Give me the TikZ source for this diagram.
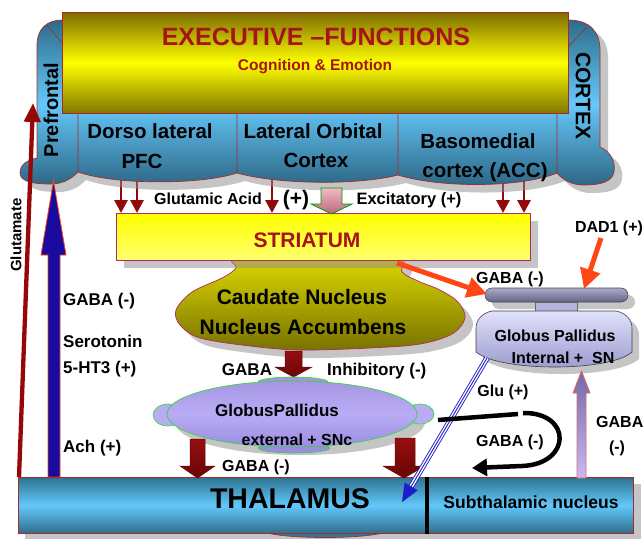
\documentclass[tikz,border=0pt]{standalone}
\usepackage{fontspec}
\setmainfont{Liberation Sans}
\usetikzlibrary{arrows.meta,calc}
\definecolor{exred}{RGB}{165,20,25}
\definecolor{darkred}{RGB}{150,8,8}
\definecolor{oranger}{RGB}{255,70,20}
\definecolor{ctop}{RGB}{45,108,138}
\definecolor{cmid}{RGB}{102,200,250}
\definecolor{cbot}{RGB}{42,100,130}
\definecolor{olivetop}{RGB}{125,108,0}
\definecolor{olivebot}{RGB}{128,118,0}
\definecolor{borderred}{RGB}{170,40,40}
\definecolor{pinkborder}{RGB}{180,40,100}
\definecolor{gpgreen}{RGB}{40,220,40}
\definecolor{bluearr}{RGB}{25,10,160}
\definecolor{bluetri}{RGB}{30,30,200}
\definecolor{cauTop}{RGB}{238,234,0}
\definecolor{cauBot}{RGB}{120,114,0}
\definecolor{lavTop}{RGB}{165,150,225}
\definecolor{lavMid}{RGB}{185,172,245}
\definecolor{lavBot}{RGB}{155,140,225}
\newcommand\fsz[1]{\fontsize{#1}{#1}\selectfont\bfseries}
\newcommand\cortexoutline{(62,20) -- (568,20) .. controls (590,20) and (600,32) .. (600,50) -- (600,147) .. controls (612,152) and (617,165) .. (613,175) .. controls (609,183) and (598,185) .. (583,185) .. controls (572,185) and (563,180) .. (557,173) .. controls (520,188) and (440,188) .. (398,175) .. controls (360,185) and (280,185) .. (237,173) .. controls (200,185) and (115,185) .. (78,172) .. controls (70,180) and (62,184) .. (50,184) .. controls (35,184) and (20,182) .. (20,173) .. controls (20,164) and (28,160) .. (37,158) -- (37,45) .. controls (37,28) and (48,20) .. (62,20) -- cycle}
\newcommand\caudateoutline{plot[smooth cycle, tension=0.55] coordinates {(236,256) (236,268) (222,278) (192,292) (176,310) (180,325) (200,338) (250,346) (300,350) (370,348) (420,344) (452,334) (465,318) (458,302) (440,290) (418,281) (402,272) (398,256) (318,240)}}
\begin{document}
\begin{tikzpicture}[x=1pt,y=-1pt,
  shad/.style={fill=black!45, fill opacity=0.5},
  cx/.style={draw=darkred, line width=2.8pt, -{Triangle[width=13pt,length=13pt]}},
  lab/.style={inner sep=0pt, anchor=base, text=black},
  blockred/.style={draw=darkred!70!black, line width=0.5pt, top color={rgb,255:red,150;green,15;blue,15}, bottom color={rgb,255:red,105;green,5;blue,5}},
  orarr/.style={draw=oranger, line width=5pt, -{Triangle[width=20pt,length=20pt]}}]
\useasboundingbox (0,0) rectangle (644,538);
\fill[white] (0,0) rectangle (644,538);

% ---------- caudate ----------
\fill[shad, shift={(8,8)}] \caudateoutline;
\path[draw=pinkborder, line width=0.7pt, top color=cauTop, bottom color=cauBot] \caudateoutline;
\node[lab, font=\fsz{21}] (cau1) at (302,304) {Caudate Nucleus};
\node[lab, font=\fsz{21}] (cau2) at (303,334) {Nucleus Accumbens};

% ---------- striatum ----------
\fill[shad] (124,221) rectangle (538,268);
\node[draw=pinkborder, line width=0.8pt, top color=yellow, bottom color={rgb,255:red,255;green,255;blue,110}, minimum width=414pt, minimum height=47pt, anchor=north west, inner sep=0pt] (str) at (116,213) {};
\node[lab, text=exred, font=\fsz{21}] (strt) at (307,247) {STRIATUM};

% ---------- cortex -> striatum arrows ----------
\foreach \xx in {121,137,272,503,524} \draw[cx] (\xx,176) -- (str.north -| \xx,0);

% ---------- cortex ----------
\fill[shad, shift={(8,8)}] \cortexoutline;
\path[draw=borderred, line width=0.7pt, top color=ctop, bottom color=cbot, middle color=cmid] \cortexoutline;
\draw[borderred, line width=0.6pt] (78,113) -- (78,172) (237,113) -- (237,173) (398,113) -- (398,175) (557,113) -- (557,173) (47,25) -- (62,43) (568,47) -- (587,27);

% ---------- executive box ----------
\node[draw=borderred, line width=0.8pt, top color=olivetop, bottom color=olivebot, middle color=yellow, minimum width=506pt, minimum height=101pt, anchor=north west, inner sep=0pt] (exe) at (62,12) {};
\node[lab, text=exred, font=\fsz{25}] (ttl) at (316,45) {EXECUTIVE –FUNCTIONS};
\node[lab, text=exred, font=\fsz{15.5}] (sub) at (315,70) {Cognition \& Emotion};

% cortex labels
\node[inner sep=0pt, rotate=90, font=\fsz{20}] (pf) at (51,110) {Prefrontal};
\node[inner sep=0pt, rotate=-90, font=\fsz{21}] (cx) at (583,96) {CORTEX};
\node[lab, font=\fsz{20.5}] (dl1) at (150,138) {Dorso lateral};
\node[lab, font=\fsz{20.5}] (dl2) at (142,168) {PFC};
\node[lab, font=\fsz{20.5}] (lo1) at (313,138) {Lateral Orbital};
\node[lab, font=\fsz{20.5}] (lo2) at (316,167) {Cortex};
\node[lab, font=\fsz{20.5}] (bm1) at (478,148) {Basomedial};
\node[lab, font=\fsz{20.5}] (bm2) at (485,177) {cortex (ACC)};

% ---------- excitatory block arrow ----------
\path[draw=green!60!black, line width=0.8pt, top color={rgb,255:red,242;green,185;blue,195}, bottom color={rgb,255:red,185;green,105;blue,125}] (321,188) -- (342,188) -- (342,204) -- (352,204) -- (331.5,214) -- (311,204) -- (321,204) -- cycle;
\node[lab, font=\fsz{16}] (glac) at (208,204) {Glutamic Acid};
\node[lab, font=\fsz{21}] (plus) at (296,205) {(+)};
\node[lab, font=\fsz{16.5}] (exc) at (409,204) {Excitatory (+)};

% ---------- GP internal ----------
\fill[shad, shift={(7,7)}] (485,288) [rounded corners=7pt] rectangle (628,302);
\path[draw=black!70, line width=0.6pt, rounded corners=7pt, top color={rgb,255:red,170;green,170;blue,200}, bottom color={rgb,255:red,100;green,100;blue,135}] (485,288) rectangle (628,302);
\path[draw=black!60, line width=0.5pt, fill={rgb,255:red,180;green,180;blue,220}] (535,302) rectangle (577,311);
\fill[shad, shift={(7,7)}] (492,311) -- (616,311) .. controls (626,313) and (632,320) .. (632,328) -- (632,352) .. controls (610,372) and (500,372) .. (476,352) -- (476,328) .. controls (476,320) and (482,313) .. (492,311) -- cycle;
\path[draw=black!75, line width=0.6pt, top color={rgb,255:red,225;green,225;blue,252}, bottom color={rgb,255:red,150;green,150;blue,205}] (492,311) -- (616,311) .. controls (626,313) and (632,320) .. (632,328) -- (632,352) .. controls (610,372) and (500,372) .. (476,352) -- (476,328) .. controls (476,320) and (482,313) .. (492,311) -- cycle;
\node[lab, font=\fsz{16}] (gpi1) at (555,341) {Globus Pallidus};
\node[lab, font=\fsz{16}] (gpi2) at (563,363) {Internal +\ \ SN};
\node[lab, font=\fsz{16}] (gabaA) at (510,283) {GABA (-)};
\node[lab, font=\fsz{16}] (dad) at (609,232) {DAD1 (+)};

% orange arrows
\draw[orarr] (397,263) -- (487,294);
\draw[orarr] (601,238) -- (584,289);

% ---------- GABA block arrow from caudate ----------
\path[blockred] (285,351) -- (302,351) -- (302,367) -- (312,367) -- (293.5,377) -- (275,367) -- (285,367) -- cycle;
\node[lab, font=\fsz{17}] (gabaB) at (247,375) {GABA};
\node[lab, anchor=base west, font=\fsz{17}] (inh) at (327,375) {Inhibitory (-)};

% ---------- left side arrows ----------
\draw[draw=darkred, line width=4.3pt, -{Triangle[width=16pt,length=19pt]}] (19,477) -- (33,103);
\node[inner sep=0pt, rotate=90, font=\fsz{15}] (glu) at (16,235) {Glutamate};
\path[fill=bluearr, draw=oranger, line width=0.8pt] (48,477) -- (48,255) -- (41,255) -- (53.5,181) -- (66,255) -- (60,255) -- (60,477) -- cycle;
\node[lab, anchor=base west, font=\fsz{17}] (g1) at (63,305) {GABA (-)};
\node[lab, anchor=base west, font=\fsz{17}] (s1) at (63,347) {Serotonin};
\node[lab, anchor=base west, font=\fsz{17}] (s2) at (63,373) {5-HT3 (+)};
\node[lab, anchor=base west, font=\fsz{17}] (ach) at (63,452) {Ach (+)};

% ---------- GP external ----------
\fill[shad, shift={(8,8)}] (292,414) ellipse [x radius=125, y radius=33];
\path[draw=gpgreen, line width=0.6pt, fill=lavMid] (168,415) ellipse [x radius=15, y radius=11];
\path[draw=gpgreen, line width=0.6pt, fill=lavMid] (420,414) ellipse [x radius=14, y radius=10];
\path[draw=gpgreen, line width=0.6pt, fill=lavTop] (293,382) ellipse [x radius=35, y radius=5];
\path[draw=gpgreen, line width=0.6pt, fill=lavBot] (294,448) ellipse [x radius=36, y radius=5];
\path[draw=gpgreen, line width=0.6pt, top color=lavTop, bottom color=lavBot, middle color=lavMid] (292,414) ellipse [x radius=125, y radius=33];
\node[lab, font=\fsz{17}] (gpe1) at (277,416) {GlobusPallidus};
\node[lab, font=\fsz{16}] (gpe2) at (297,445) {external + SNc};

% ---------- thalamus ----------
\fill[shad] (25,484) rectangle (641,540);
\path[draw=borderred, line width=0.7pt, fill={rgb,255:red,50;green,120;blue,150}] (260,530) .. controls (272,540) and (378,540) .. (390,530) -- cycle;
\node[draw=borderred, line width=0.8pt, top color={rgb,255:red,45;green,115;blue,145}, bottom color={rgb,255:red,45;green,110;blue,140}, middle color={rgb,255:red,98;green,200;blue,250}, minimum width=615pt, minimum height=56pt, anchor=north west, inner sep=0pt] (thal) at (18,477) {};
\draw[black, line width=4pt] (thal.north -| 427,0) -- (thal.south -| 427,0);
\node[lab, font=\fsz{28.5}] (tht) at (290,508) {THALAMUS};
\node[lab, font=\fsz{17.5}] (stn) at (531,508) {Subthalamic nucleus};

% block arrows GP ext -> thalamus
\path[blockred] (190,439) -- (205,439) -- (205,466) -- (215,466) -- (197.5,478) -- (180,466) -- (190,466) -- cycle;
\path[blockred] (395,438) -- (415,438) -- (415,466) -- (425,466) -- (404,478) -- (383,466) -- (395,466) -- cycle;
\node[lab, font=\fsz{16}] (gabaC) at (256,471) {GABA (-)};

% ---------- Glu (+) triple line ----------
\coordinate (gla) at (487,358);
\coordinate (glb) at (402,502);
\draw[draw=bluetri, line width=0.9pt, preaction={draw=bluetri, line width=5.5pt}, preaction={draw=white, line width=3.7pt}] (gla) -- ($(glb)!16pt!(gla)$);
\draw[draw=bluetri, line width=0.1pt, fill=bluetri, -{Triangle[width=15pt,length=18pt]}] ($(glb)!20pt!(gla)$) -- (glb);
\node[lab, font=\fsz{16}] (glut) at (503,396) {Glu (+)};

% ---------- black GABA curve ----------
\draw[black, line width=4.5pt] (438,420) -- (518,414);
\draw[black, line width=4.5pt, -{Triangle[width=17pt,length=15pt]}] (523,413) .. controls (572,412) and (572,464) .. (522,466) -- (472,468);
\node[lab, font=\fsz{16}] (gabaD) at (510,446) {GABA (-)};

% ---------- lavender up arrow ----------
\path[draw={rgb,255:red,230;green,100;blue,100}, line width=0.8pt, top color={rgb,255:red,115;green,105;blue,165}, bottom color={rgb,255:red,200;green,185;blue,245}] (577,478) -- (577,393) -- (573,393) -- (581.5,371) -- (590,393) -- (586,393) -- (586,478) -- cycle;
\node[lab, anchor=base west, font=\fsz{16}] (gabaE) at (596,427) {GABA};
\node[lab, font=\fsz{16}] (gabaF) at (617,452) {(-)};
\end{tikzpicture}
\end{document}
